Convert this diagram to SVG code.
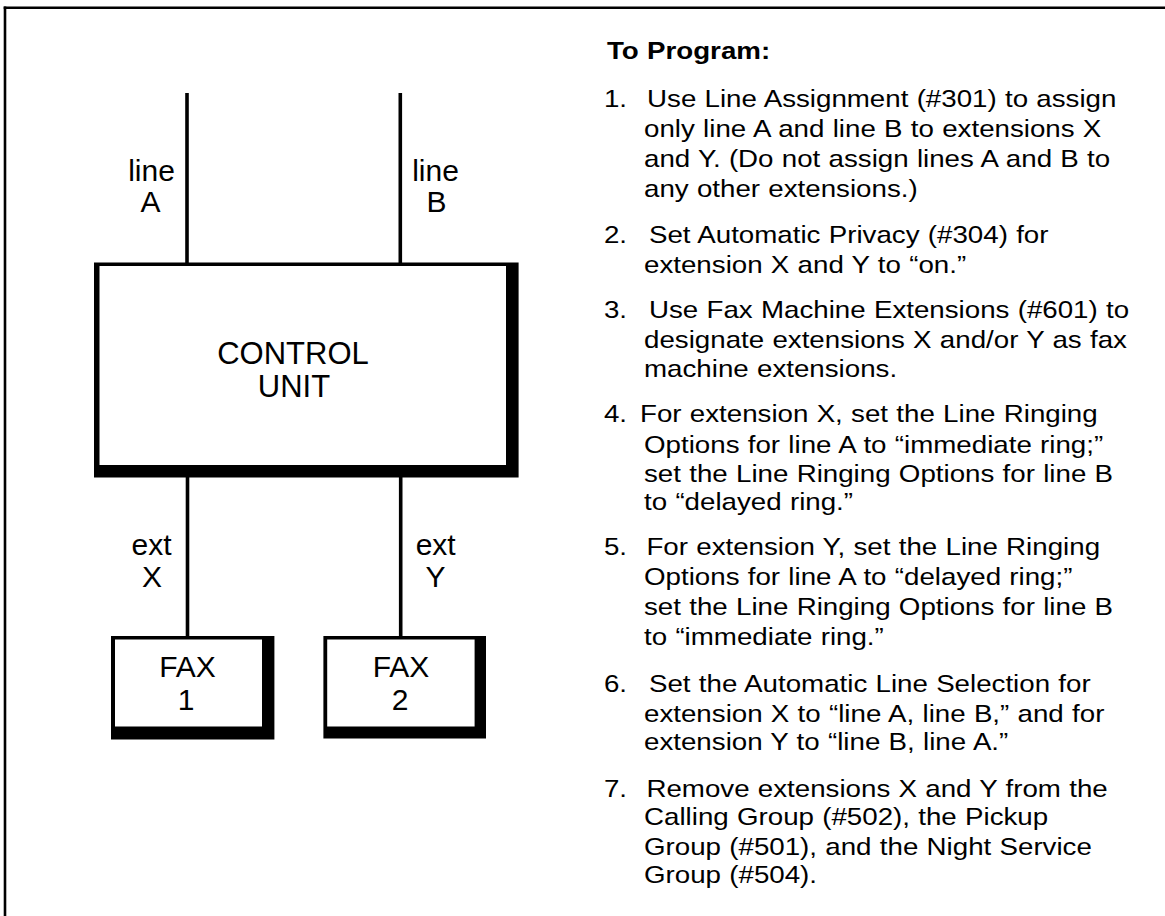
<svg xmlns="http://www.w3.org/2000/svg" width="1165" height="916" viewBox="0 0 1165 916">
<style>
.lbl{font-family:"Liberation Sans",Arial,Helvetica,sans-serif;font-size:30px;fill:#000;text-anchor:middle}
.big{font-size:31px}
.edge{fill:#000;fill-rule:evenodd}
.wire{stroke:#000;stroke-width:3.6;fill:none}
.frame{stroke:#000;stroke-width:2.6;fill:none}
.txt{font-family:"Liberation Sans",Arial,Helvetica,sans-serif;font-size:24px;fill:#000;word-spacing:0.5px}
.hd{font-weight:bold}
</style>
<rect x="0" y="0" width="1165" height="916" fill="#fff"/>
<g id="frame">
<line class="frame" x1="3.7" y1="7.7" x2="1165" y2="7.7"/>
<line class="frame" x1="5" y1="6.4" x2="5" y2="916"/>
</g>
<g id="connectors">
<line class="wire" x1="187" y1="93" x2="187" y2="264"/>
<line class="wire" x1="400.3" y1="93" x2="400.3" y2="264"/>
<line class="wire" x1="187.5" y1="476" x2="187.5" y2="637"/>
<line class="wire" x1="400.7" y1="476" x2="400.7" y2="637"/>
</g>
<g id="label-lineA">
<text class="lbl" x="151.5" y="181">line</text>
<text class="lbl" x="150.5" y="212">A</text>
</g>
<g id="label-lineB">
<text class="lbl" x="435.5" y="181">line</text>
<text class="lbl" x="436.5" y="212">B</text>
</g>
<g id="label-extX">
<text class="lbl" x="151.5" y="555">ext</text>
<text class="lbl" x="152" y="586.5">X</text>
</g>
<g id="label-extY">
<text class="lbl" x="435.7" y="555">ext</text>
<text class="lbl" x="435.5" y="586.5">Y</text>
</g>
<g id="control-unit">
<rect x="99.5" y="266" width="406.5" height="199" fill="#fff"/>
<path class="edge" d="M94,262.5 H518.6 V477.5 H94 Z M99.5,266 H506 V465 H99.5 Z"/>
<text class="lbl big" x="293" y="364">CONTROL</text>
<text class="lbl big" x="294" y="396.7">UNIT</text>
</g>
<g id="fax1">
<path class="edge" d="M111,636 H274.4 V739.5 H111 Z M115,639.5 H262 V726.5 H115 Z"/>
<text class="lbl" x="187.5" y="676.7">FAX</text>
<text class="lbl" x="186" y="710">1</text>
</g>
<g id="fax2">
<path class="edge" d="M323.4,636 H486 V738.5 H323.4 Z M327.2,639.5 H474.6 V726.5 H327.2 Z"/>
<text class="lbl" x="401" y="676.7">FAX</text>
<text class="lbl" x="400" y="710">2</text>
</g>
<g id="instructions" class="txt" transform="scale(1.155,1)">
<text class="hd" x="525.5" y="59">To Program:</text>
<text x="522.9" y="107">1.</text>
<text x="560.2" y="107">Use Line Assignment (#301) to assign</text>
<text x="557.6" y="137.5">only line A and line B to extensions X</text>
<text x="557.6" y="167.5">and Y. (Do not assign lines A and B to</text>
<text x="557.6" y="196.7">any other extensions.)</text>
<text x="522.9" y="242.7">2.</text>
<text x="561.9" y="242.7">Set Automatic Privacy (#304) for</text>
<text x="557.6" y="273.3">extension X and Y to “on.”</text>
<text x="522.9" y="318.3">3.</text>
<text x="561.9" y="318.3">Use Fax Machine Extensions (#601) to</text>
<text x="557.6" y="348.3">designate extensions X and/or Y as fax</text>
<text x="557.6" y="376.7">machine extensions.</text>
<text x="522.9" y="421.7">4.</text>
<text x="554.1" y="421.7">For extension X, set the Line Ringing</text>
<text x="557.6" y="453">Options for line A to “immediate ring;”</text>
<text x="557.6" y="481.7">set the Line Ringing Options for line B</text>
<text x="557.6" y="510">to “delayed ring.”</text>
<text x="522.9" y="555">5.</text>
<text x="559.7" y="555">For extension Y, set the Line Ringing</text>
<text x="557.6" y="585">Options for line A to “delayed ring;”</text>
<text x="557.6" y="615">set the Line Ringing Options for line B</text>
<text x="557.6" y="645">to “immediate ring.”</text>
<text x="522.9" y="691.7">6.</text>
<text x="561.9" y="691.7">Set the Automatic Line Selection for</text>
<text x="557.6" y="721.7">extension X to “line A, line B,” and for</text>
<text x="557.6" y="750">extension Y to “line B, line A.”</text>
<text x="522.9" y="796.7">7.</text>
<text x="559.7" y="796.7">Remove extensions X and Y from the</text>
<text x="557.6" y="825">Calling Group (#502), the Pickup</text>
<text x="557.6" y="855">Group (#501), and the Night Service</text>
<text x="557.6" y="883.3">Group (#504).</text>
</g>
</svg>
